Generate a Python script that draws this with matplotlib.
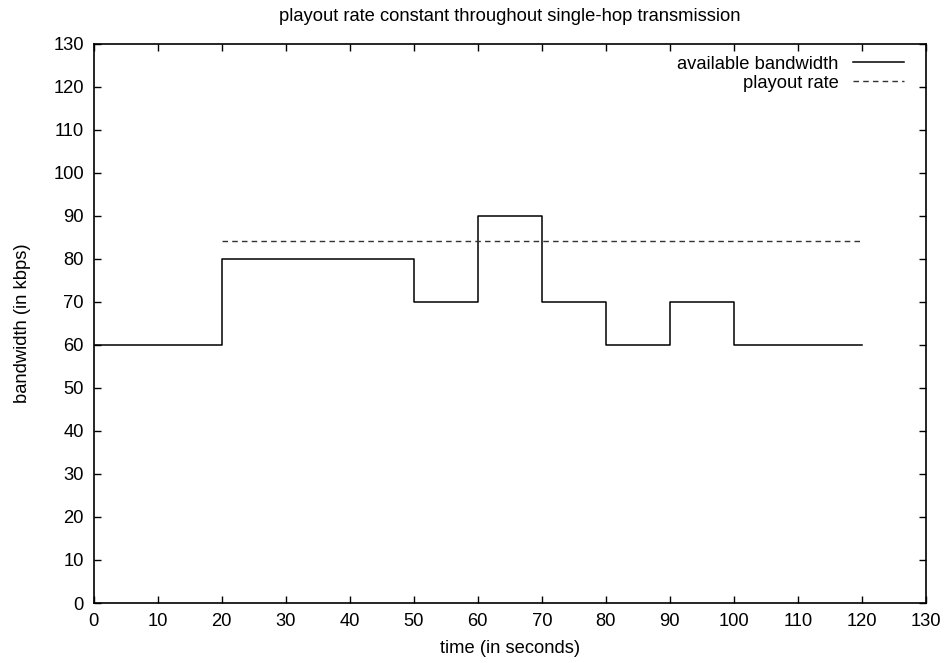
import matplotlib
matplotlib.use("Agg")
import matplotlib.pyplot as plt

plt.rcParams['font.family'] = ['Liberation Sans', 'DejaVu Sans']

# available bandwidth (step changes)
bw_time = [0, 20, 50, 60, 70, 80, 90, 100, 120]
bw_value = [60, 80, 70, 90, 70, 60, 70, 60, 60]
# playout rate
play_time = [20, 120]
play_value = [84, 84]

x_ticks = list(range(0, 131, 10))
y_ticks = list(range(0, 131, 10))

FS = 13.2
W, H = 948, 663
L, R, T, B = 93.5, 926, 43.5, 603
fig = plt.figure(figsize=(W / 100, H / 100), dpi=100)
ax = fig.add_axes([L / W, 1 - B / H, (R - L) / W, (B - T) / H])

ax.step(bw_time, bw_value, where='post', color='black', lw=1.1, label='available bandwidth')
ax.plot(play_time, play_value, color='#333333', lw=1.0, linestyle=(0, (4, 3)), label='playout rate')

ax.set_xlim(0, 130)
ax.set_ylim(0, 130)
ax.set_xticks(x_ticks)
ax.set_yticks(y_ticks)
ax.tick_params(direction='in', top=True, right=True, length=5, width=1, labelsize=FS)
ax.tick_params(axis='x', pad=7.5)
ax.tick_params(axis='y', pad=7)
for s in ax.spines.values():
    s.set_linewidth(1.2)

ax.set_xlabel('time (in seconds)', fontsize=FS, labelpad=7)
ax.set_ylabel('bandwidth (in kbps)', fontsize=FS, labelpad=16)
ax.set_title('playout rate constant throughout single-hop transmission', fontsize=FS, pad=16.5)

leg = ax.legend(loc='upper right', frameon=False, fontsize=FS, markerfirst=False,
                handlelength=2.8, handletextpad=0.75, borderaxespad=0.0,
                borderpad=0.5, labelspacing=0.12,
                bbox_to_anchor=(1 - 13 / (R - L), 1 - 3 / (B - T)))
for t in leg.get_texts():
    t.set_ha('right')

fig.savefig('out.png', dpi=100)
